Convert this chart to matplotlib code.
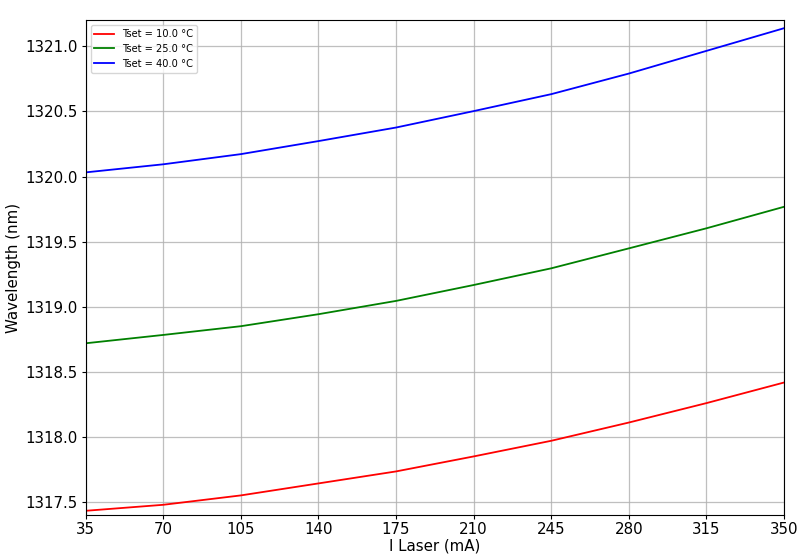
import matplotlib
matplotlib.use("Agg")
import matplotlib.pyplot as plt

plt.rcParams["font.family"] = ["DejaVu Sans"]

# laser current (mA) and measured wavelength (nm) per set temperature
current = [35, 70, 105, 140, 175, 210, 245, 280, 315, 350]
wl_10 = [1317.436, 1317.482, 1317.554, 1317.646, 1317.738, 1317.853, 1317.973, 1318.113, 1318.262, 1318.420]
wl_25 = [1318.721, 1318.785, 1318.852, 1318.944, 1319.046, 1319.168, 1319.296, 1319.449, 1319.603, 1319.768]
wl_40 = [1320.032, 1320.094, 1320.172, 1320.272, 1320.376, 1320.502, 1320.632, 1320.790, 1320.964, 1321.138]
labels = ["Tset = 10.0 °C", "Tset = 25.0 °C", "Tset = 40.0 °C"]

fig, ax = plt.subplots(figsize=(8, 5.59), dpi=100)
fig.subplots_adjust(left=0.107, right=0.98, top=0.964, bottom=0.079)

ax.plot(current, wl_10, color="red", lw=1.3, label=labels[0])
ax.plot(current, wl_25, color="green", lw=1.3, label=labels[1])
ax.plot(current, wl_40, color="blue", lw=1.3, label=labels[2])

ax.set_xlim(35, 350)
ax.set_ylim(1317.405, 1321.2)
ax.set_xticks(current)
ax.tick_params(labelsize=10.8, length=3, pad=2.5)
ax.set_xlabel("I Laser (mA)", fontsize=10.8, labelpad=1)
ax.set_ylabel("Wavelength (nm)", fontsize=10.8, labelpad=3)
ax.grid(True, color="#b0b0b0", lw=0.9, alpha=0.8)
ax.legend(loc="upper left", fontsize=7.1)

fig.savefig("out.png")
